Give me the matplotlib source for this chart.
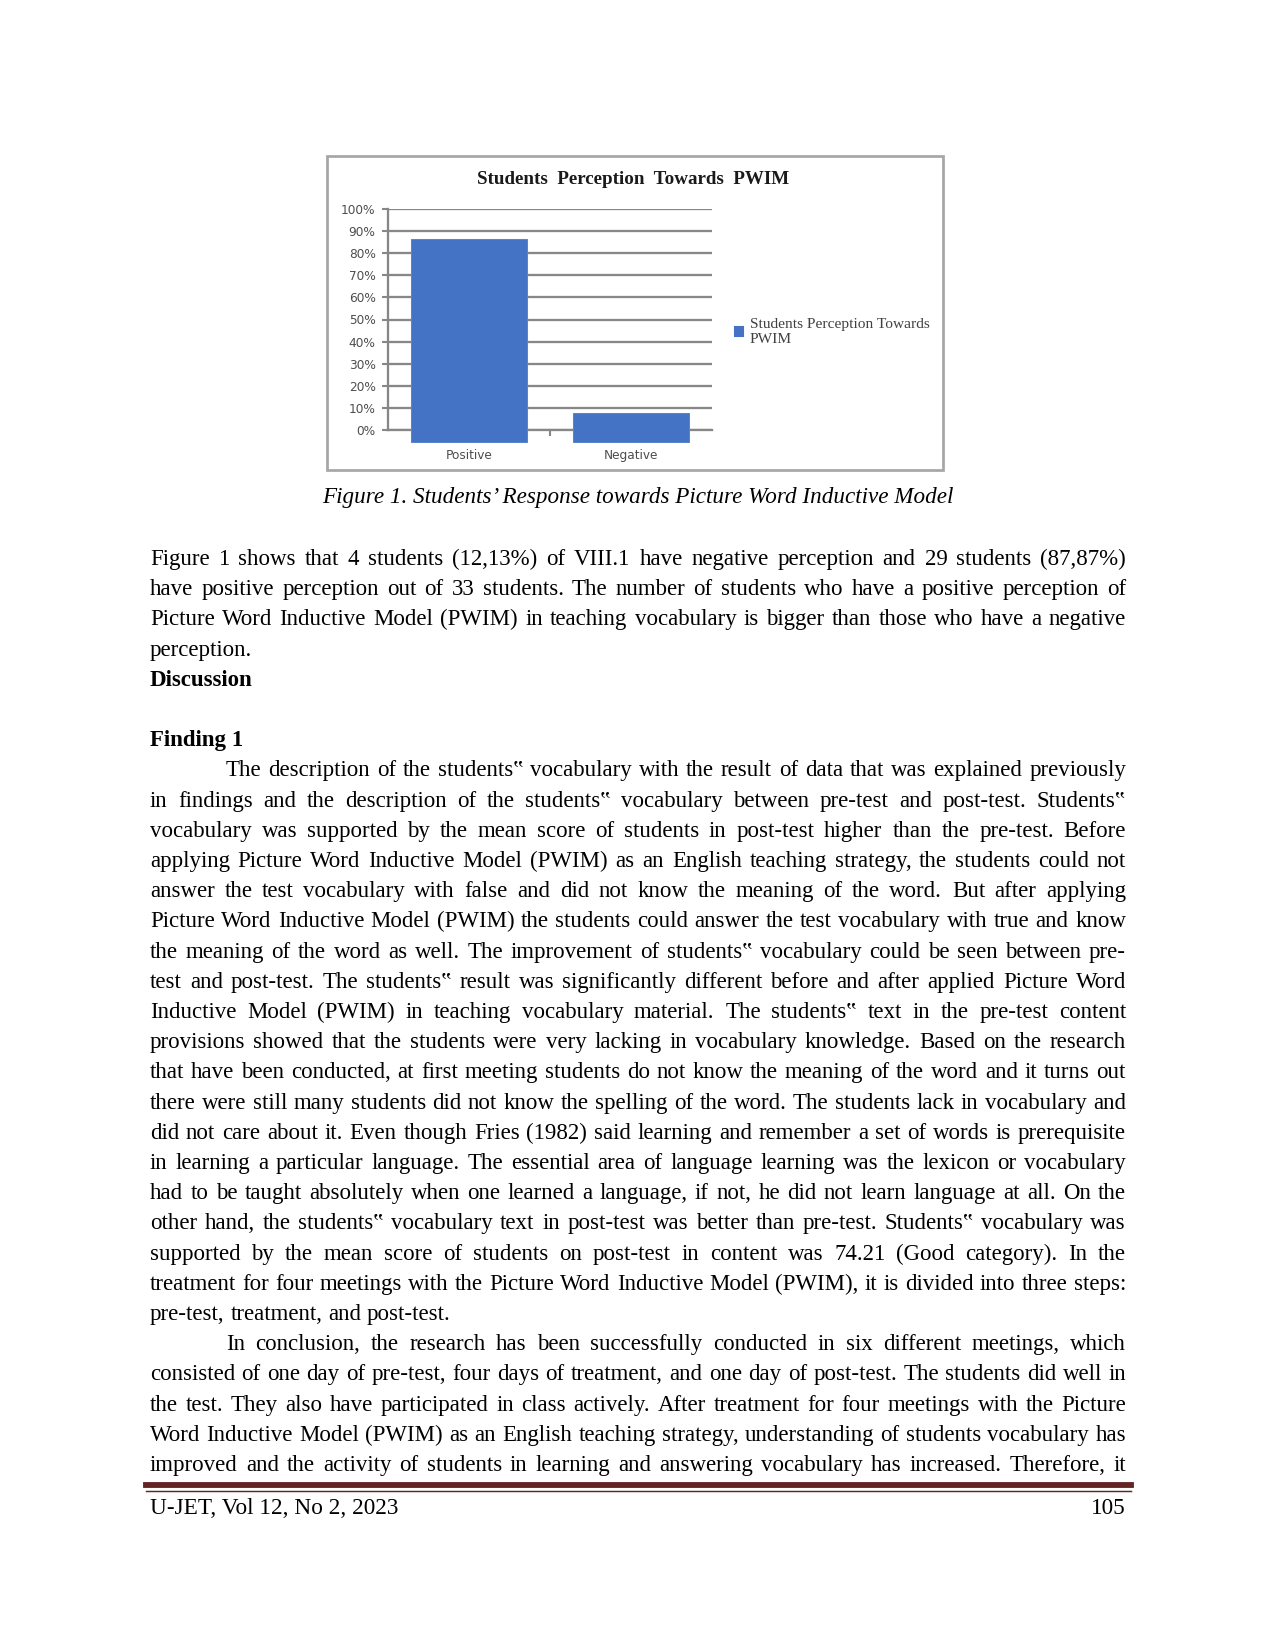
import numpy as np
import matplotlib
matplotlib.use("Agg")
import matplotlib.pyplot as plt
from matplotlib.patches import Rectangle
from matplotlib.lines import Line2D

# page size in pixels (8.5 x 11 in at 150 dpi)
W, H = 1275, 1650

# chart data
categories = ["Positive", "Negative"]
perception = [86.3, 7.9]
series_name = "Students Perception Towards\nPWIM"
y_ticks = list(range(0, 101, 10))
y_labels = [f"{v}%" for v in y_ticks]
chart_title = "Students  Perception  Towards  PWIM"

# page text
caption = "Figure 1. Students\u2019 Response towards Picture Word Inductive Model"
Q = "\u201f"
para1 = [
    "Figure 1 shows that 4 students (12,13%) of VIII.1 have negative perception and 29 students (87,87%)",
    "have positive perception out of 33 students. The number of students who have a positive perception of",
    "Picture Word Inductive Model (PWIM) in teaching vocabulary is bigger than those who have a negative",
    "perception.",
]
para2 = [
    f"The description of the students{Q} vocabulary with the result of data that was explained previously",
    f"in findings and the description of the students{Q} vocabulary between pre-test and post-test. Students{Q}",
    "vocabulary was supported by the mean score of students in post-test higher than the pre-test. Before",
    "applying Picture Word Inductive Model (PWIM) as an English teaching strategy, the students could not",
    "answer the test vocabulary with false and did not know the meaning of the word. But after applying",
    "Picture Word Inductive Model (PWIM) the students could answer the test vocabulary with true and know",
    f"the meaning of the word as well. The improvement of students{Q} vocabulary could be seen between pre-",
    f"test and post-test. The students{Q} result was significantly different before and after applied Picture Word",
    f"Inductive Model (PWIM) in teaching vocabulary material. The students{Q} text in the pre-test content",
    "provisions showed that the students were very lacking in vocabulary knowledge. Based on the research",
    "that have been conducted, at first meeting students do not know the meaning of the word and it turns out",
    "there were still many students did not know the spelling of the word. The students lack in vocabulary and",
    "did not care about it. Even though Fries (1982) said learning and remember a set of words is prerequisite",
    "in learning a particular language. The essential area of language learning was the lexicon or vocabulary",
    "had to be taught absolutely when one learned a language, if not, he did not learn language at all. On the",
    f"other hand, the students{Q} vocabulary text in post-test was better than pre-test. Students{Q} vocabulary was",
    "supported by the mean score of students on post-test in content was 74.21 (Good category). In the",
    "treatment for four meetings with the Picture Word Inductive Model (PWIM), it is divided into three steps:",
    "pre-test, treatment, and post-test.",
]
para3 = [
    "In conclusion, the research has been successfully conducted in six different meetings, which",
    "consisted of one day of pre-test, four days of treatment, and one day of post-test. The students did well in",
    "the test. They also have participated in class actively. After treatment for four meetings with the Picture",
    "Word Inductive Model (PWIM) as an English teaching strategy, understanding of students vocabulary has",
    "improved and the activity of students in learning and answering vocabulary has increased. Therefore, it",
]
footer_left = "U-JET, Vol 12, No 2, 2023"
footer_right = "105"

BLUE = "#4472c4"
GRID = "#878787"
SERIF = ["Liberation Serif", "DejaVu Serif"]


def fx(x):
    return x / W


def fy(y):
    return 1 - y / H


fig = plt.figure(figsize=(8.5, 11), dpi=150)
renderer = fig.canvas.get_renderer()

# ---- chart ----
fig.patches.append(Rectangle((fx(327), fy(470)), (943 - 327) / W, (470 - 156) / H,
                             transform=fig.transFigure, fill=False,
                             ec="#a6a6a6", lw=1.3))

ax = fig.add_axes([fx(388), fy(430), (712 - 388) / W, (430 - 209) / H])
x = np.arange(len(categories))
bar_drop = -5.5
ax.bar(x, np.array(perception) - bar_drop, bottom=bar_drop, width=0.72,
       color=BLUE, edgecolor="#5b84cf", lw=0.5, clip_on=False, zorder=3)
ax.set_xlim(-0.5, 1.5)
ax.set_ylim(0, 100)
ax.set_yticks(y_ticks, y_labels)
ax.set_xticks(x, categories)
ax.set_xticks([0.5], minor=True)
ax.yaxis.grid(True, color=GRID, lw=1.1)
ax.set_axisbelow(True)
for s in ["top", "right"]:
    ax.spines[s].set_visible(False)
for s in ["left", "bottom"]:
    ax.spines[s].set_color(GRID)
    ax.spines[s].set_linewidth(1.1)
ax.tick_params(axis="y", length=3, width=1, color=GRID, pad=3,
               labelsize=5.8, labelcolor="#4d4d4d")
ax.tick_params(axis="x", which="major", length=0, pad=9,
               labelsize=5.8, labelcolor="#4d4d4d")
ax.tick_params(axis="x", which="minor", length=3, width=1, color=GRID)
ax.legend([Rectangle((0, 0), 1, 1, color=BLUE)], [series_name],
          loc="upper left", bbox_to_anchor=(fx(735), fy(318)),
          bbox_transform=fig.transFigure, frameon=False,
          handlelength=0.55, handleheight=0.55, handletextpad=0.4,
          borderpad=0, borderaxespad=0, labelspacing=0,
          prop={"family": SERIF, "size": 7.4}, labelcolor="#404040")

fig.text(fx(633), fy(180), chart_title, ha="center", va="center",
         fontsize=9.1, fontweight="bold", family=SERIF, color="#1a1a1a")

# ---- page text ----
LEFT, RIGHT = 150, 1126
STEP = 30.2
BODY = dict(family=SERIF, fontsize=11, color="black")


def put_line(text, x0, yc, justify=True, **kw):
    words = text.split()
    items = [fig.text(0, 0, w, ha="left", va="baseline", **kw) for w in words]
    widths = [t.get_window_extent(renderer).width for t in items]
    if justify and len(words) > 1:
        gap = (RIGHT - x0 - sum(widths)) / (len(words) - 1)
    else:
        gap = 0.25 * kw.get("fontsize", 11) * 150 / 72
    cx = x0
    for t, w in zip(items, widths):
        t.set_position((fx(cx), fy(yc + 6)))
        cx += w + gap


def put_para(lines, y0, indent=0, last_justified=False):
    for i, ln in enumerate(lines):
        x0 = LEFT + (indent if i == 0 else 0)
        last = i == len(lines) - 1
        put_line(ln, x0, y0 + i * STEP, justify=(not last) or last_justified, **BODY)
    return y0 + len(lines) * STEP


fig.text(fx(638), fy(498), caption, ha="center", va="center",
         family=SERIF, fontsize=11.1, style="italic")

y = put_para(para1, 559)
fig.text(fx(LEFT), fy(y + 6), "Discussion", ha="left", va="baseline",
         family=SERIF, fontsize=11, fontweight="bold")
y += 2 * STEP
fig.text(fx(LEFT), fy(y + 6), "Finding 1", ha="left", va="baseline",
         family=SERIF, fontsize=11, fontweight="bold")
y += STEP
y = put_para(para2, y, indent=76)
put_para(para3, y, indent=76, last_justified=True)

# footer rule and running footer
fig.add_artist(Line2D([fx(146), fx(1131)], [fy(1485)] * 2, lw=2.8,
                      color="#632423", transform=fig.transFigure))
fig.add_artist(Line2D([fx(146), fx(1131)], [fy(1490.5)] * 2, lw=0.7,
                      color="#632423", transform=fig.transFigure))
fig.text(fx(LEFT), fy(1508), footer_left, ha="left", va="center",
         family=SERIF, fontsize=11.2)
fig.text(fx(RIGHT), fy(1508), footer_right, ha="right", va="center",
         family=SERIF, fontsize=11.2)

fig.savefig("out.png", dpi=150, facecolor="white")
